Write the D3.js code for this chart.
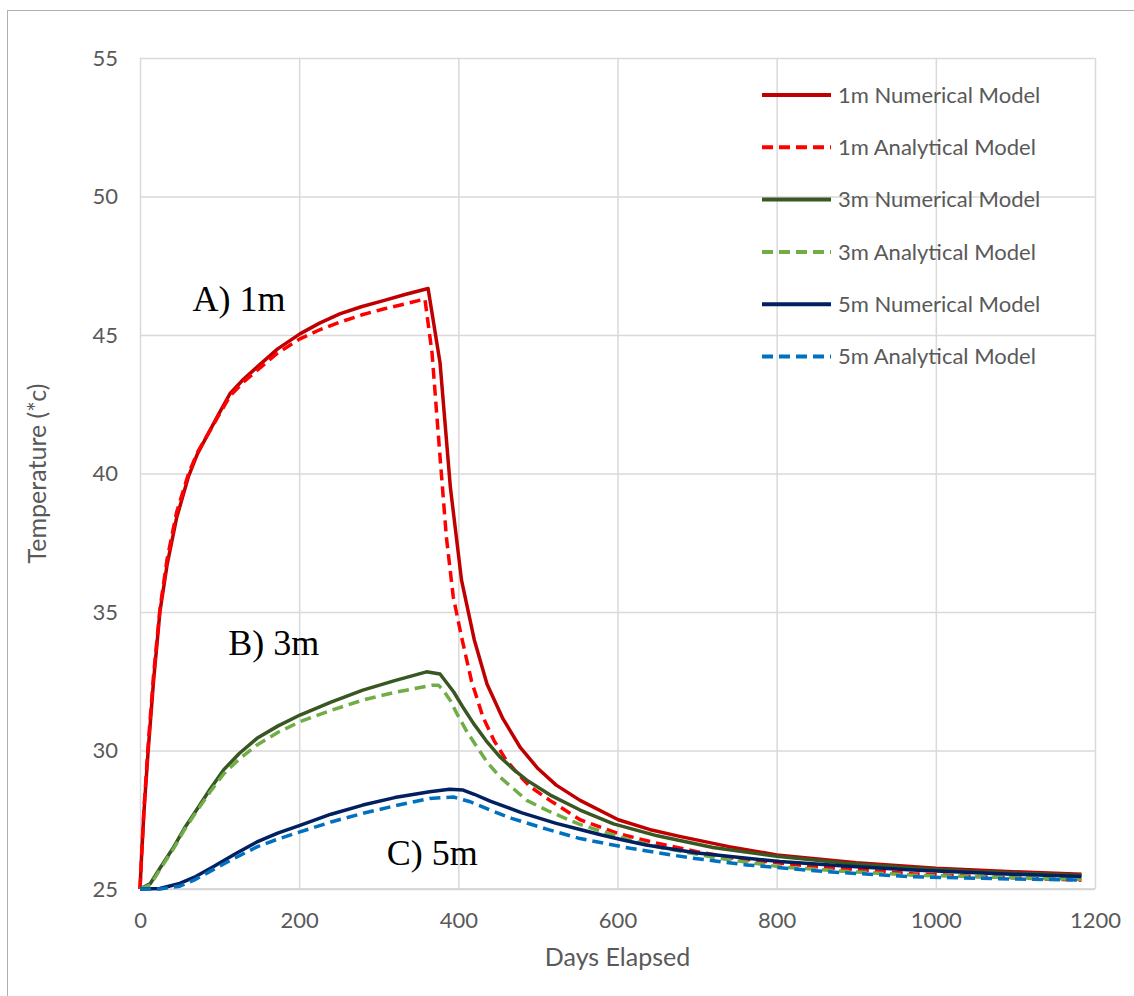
<!DOCTYPE html>
<html>
<head>
<meta charset="utf-8">
<script src="https://cdn.jsdelivr.net/npm/d3@7"></script>
<style>
  html, body { margin: 0; padding: 0; background: #fff; }
  svg { display: block; }
</style>
</head>
<body>
<div id="chart"></div>
<script>
// Values, [day, temperature]
const num_1m = [[0,25],[2,26.2],[5,27.8],[10,29.9],[17,32.5],[25,35],[34,36.7],[46,38.4],[61,39.9],[72,40.7],[84,41.35],[98,42.1],[113,42.88],[130,43.4],[147,43.84],[173,44.5],[201,45.04],[225,45.42],[251,45.76],[278,46.02],[306,46.24],[333,46.46],[362,46.68],
  [377,44.0],[390,39.5],[404,36.15],[420,34.0],[436,32.4],[456,31.15],[478,30.1],[500,29.35],[523,28.75],[553,28.2],[601,27.5],[640,27.15],[678,26.9],[740,26.53],[800,26.23],[900,25.95],[1000,25.75],[1090,25.63],[1183,25.53]];
const ana_1m = [[0,25],[2,26.2],[5,27.9],[10,30.1],[17,32.7],[25,35.1],[34,36.9],[46,38.6],[61,40.0],[72,40.75],[84,41.35],[98,42.05],[113,42.8],[130,43.3],[147,43.72],[173,44.35],[201,44.86],[225,45.18],[251,45.46],[278,45.72],[306,45.94],[333,46.12],[358,46.3],
  [367,44.34],[373.5,41.9],[379,39.88],[385,37.7],[393.6,35.55],[404,34.1],[416.6,32.5],[431,31.2],[445,30.35],[460,29.66],[475,29.15],[490,28.7],[515,28.2],[553,27.5],[601,27.0],[650,26.65],[700,26.35],[745,26.12],[850,25.8],[971,25.55],[1080,25.42],[1183,25.32]];
const num_3m = [[0,25],[13,25.2],[25,25.75],[42,26.5],[56,27.2],[71,27.85],[88,28.6],[105,29.3],[125,29.9],[147,30.44],[173,30.88],[201,31.28],[240,31.75],[280,32.18],[320,32.52],[360,32.84],
  [377,32.76],[394,32.12],[405,31.6],[419,30.98],[435,30.35],[452,29.78],[470,29.3],[486,28.93],[515,28.4],[553,27.85],[595,27.35],[650,26.92],[720,26.5],[800,26.18],[888,25.93],[970,25.76],[1055,25.62],[1183,25.5]];
const ana_3m = [[0,25],[13,25.15],[25,25.7],[42,26.45],[56,27.15],[71,27.8],[88,28.5],[105,29.15],[125,29.7],[147,30.2],[173,30.65],[201,31.04],[240,31.45],[280,31.82],[320,32.1],[368,32.36],
  [375,32.36],[381,32.18],[390,31.8],[398,31.34],[410,30.72],[423,30.14],[437,29.55],[452,29.05],[470,28.6],[486,28.2],[515,27.79],[551,27.35],[578,27.1],[615,26.78],[657,26.48],[730,26.1],[804,25.8],[890,25.63],[971,25.5],[1080,25.42],[1183,25.35]];
const num_5m = [[0,25],[25,25.02],[50,25.2],[70,25.45],[92,25.8],[120,26.27],[147,26.7],[173,27.02],[201,27.3],[240,27.7],[280,28.03],[320,28.3],[364,28.51],[389,28.6],[406,28.57],
  [420,28.42],[440,28.17],[480,27.75],[523,27.37],[553,27.15],[580,26.95],[607,26.77],[636,26.59],[700,26.3],[804,25.99],[890,25.82],[971,25.69],[1080,25.55],[1183,25.45]];
const ana_5m = [[0,25],[25,25.0],[50,25.1],[70,25.35],[92,25.7],[120,26.13],[147,26.52],[173,26.8],[201,27.06],[240,27.42],[280,27.73],[320,28.0],[364,28.27],[394,28.32],
  [415,28.15],[440,27.85],[467,27.55],[510,27.17],[553,26.82],[616,26.47],[690,26.13],[762,25.87],[860,25.63],[971,25.44],[1080,25.37],[1183,25.32]];

const series_names = ['1m Numerical Model', '1m Analytical Model', '3m Numerical Model',
                      '3m Analytical Model', '5m Numerical Model', '5m Analytical Model'];
const series_values = [num_1m, ana_1m, num_3m, ana_3m, num_5m, ana_5m];
const series_colors = ['#C00000', '#FF0000', '#385723', '#70AD47', '#002060', '#0070C0'];
const series_dashed = [false, true, false, true, false, true];

const x_ticks = [0, 200, 400, 600, 800, 1000, 1200];
const y_ticks = [25, 30, 35, 40, 45, 50, 55];

const annotations = [
  {text: 'A) 1m', day: 66, temp: 45.88},
  {text: 'B) 3m', day: 111, temp: 33.44},
  {text: 'C) 5m', day: 310, temp: 25.87}
];

const width = 1134, height = 996;
const margin = {left: 140, right: 39, top: 58, bottom: 107};
const plot_width = width - margin.left - margin.right;
const plot_height = height - margin.top - margin.bottom;
const text_color = '#595959';
const grid_color = '#d9d9d9';
const font = 'Lato, "Open Sans", sans-serif';

const svg = d3.select('#chart').append('svg')
  .attr('width', width)
  .attr('height', height);

// outer chart border (runs off the right and bottom edges)
svg.append('rect')
  .attr('x', 7.5).attr('y', 10.5)
  .attr('width', 1200).attr('height', 1100)
  .attr('fill', 'none')
  .attr('stroke', '#b0b0b0')
  .attr('stroke-width', 1);

const g = svg.append('g')
  .attr('transform', `translate(${margin.left},${margin.top})`);

const x_scale = d3.scaleLinear().domain([0, 1200]).range([0, plot_width]);
const y_scale = d3.scaleLinear().domain([25, 55]).range([plot_height, 0]);

// gridlines
const x_axis = d3.axisBottom(x_scale)
  .tickValues(x_ticks)
  .tickSizeInner(-plot_height)
  .tickSizeOuter(0)
  .tickPadding(23)
  .tickFormat(d3.format('d'));

const y_axis = d3.axisLeft(y_scale)
  .tickValues(y_ticks)
  .tickSizeInner(-plot_width)
  .tickSizeOuter(0)
  .tickPadding(22)
  .tickFormat(d3.format('d'));

g.append('g')
  .attr('class', 'x axis')
  .attr('transform', `translate(0,${plot_height})`)
  .call(x_axis);

g.append('g')
  .attr('class', 'y axis')
  .call(y_axis);

g.selectAll('.axis path').remove();
g.selectAll('.axis line')
  .style('stroke', grid_color)
  .style('stroke-width', 1.5);
g.selectAll('.axis text')
  .style('fill', text_color)
  .style('font-family', font)
  .style('font-size', '22px');

// bottom axis line a touch darker
g.append('line')
  .attr('x1', 0).attr('x2', plot_width)
  .attr('y1', plot_height).attr('y2', plot_height)
  .style('stroke', '#d0d0d0')
  .style('stroke-width', 1.5);

// series
const line = d3.line()
  .x(d => x_scale(d[0]))
  .y(d => y_scale(d[1]));

series_values.forEach((vals, i) => {
  g.append('path')
    .datum(vals)
    .attr('d', line)
    .attr('fill', 'none')
    .attr('stroke', series_colors[i])
    .attr('stroke-width', 3.5)
    .attr('stroke-linejoin', 'round')
    .attr('stroke-dasharray', series_dashed[i] ? '11,6' : null);
});

// in-plot labels
g.selectAll('text.annot')
  .data(annotations)
  .enter()
  .append('text')
  .attr('class', 'annot')
  .attr('x', d => x_scale(d.day))
  .attr('y', d => y_scale(d.temp))
  .text(d => d.text)
  .style('font-family', '"Liberation Serif", "Times New Roman", serif')
  .style('font-size', '36px')
  .style('fill', '#000');

// legend
const legend = svg.append('g')
  .attr('transform', 'translate(762,95)');

const rows = legend.selectAll('g.row')
  .data(series_names)
  .enter()
  .append('g')
  .attr('class', 'row')
  .attr('transform', (d, i) => `translate(0,${i * 52.3})`);

rows.append('line')
  .attr('x1', 0).attr('x2', 69)
  .attr('y1', 0).attr('y2', 0)
  .attr('stroke', (d, i) => series_colors[i])
  .attr('stroke-width', 4)
  .attr('stroke-dasharray', (d, i) => series_dashed[i] ? '11,6' : null);

rows.append('text')
  .attr('x', 76)
  .attr('dy', '0.35em')
  .text(d => d)
  .style('fill', text_color)
  .style('font-family', font)
  .style('font-size', '22px');

// axis titles
svg.append('text')
  .style('text-anchor', 'middle')
  .attr('transform', `translate(${margin.left + plot_width / 2},966)`)
  .text('Days Elapsed')
  .style('fill', text_color)
  .style('font-family', font)
  .style('font-size', '25px');

svg.append('text')
  .style('text-anchor', 'middle')
  .attr('transform', `translate(46,${margin.top + plot_height / 2})rotate(-90)`)
  .text('Temperature (*c)')
  .style('fill', text_color)
  .style('font-family', font)
  .style('font-size', '25px');
</script>
</body>
</html>
